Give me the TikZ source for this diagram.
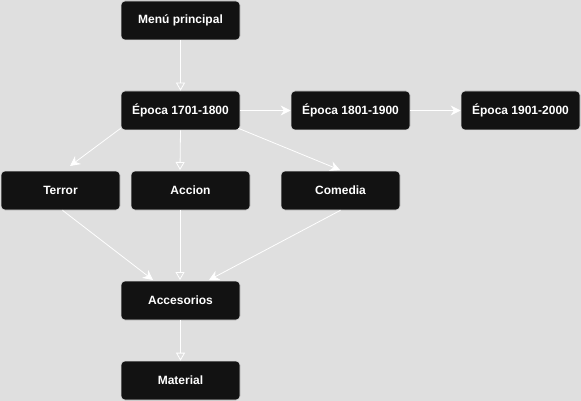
\documentclass[tikz,border=0pt]{standalone}
\usepackage{fontspec}
\setmainfont{Liberation Sans}
\usetikzlibrary{arrows.meta}
\definecolor{bg}{HTML}{DFDFDF}
\definecolor{boxfill}{HTML}{121212}
\begin{document}
\begin{tikzpicture}[x=1pt,y=-1pt,
  box/.style={draw=white!85!black, line width=0.6pt, fill=boxfill, rounded corners=4pt,
    minimum width=119pt, minimum height=39pt, inner sep=0pt,
    text=white, font=\fontsize{12}{14}\selectfont\bfseries},
  hollow/.style={draw=white, line width=0.8pt, -{Triangle[open, length=8pt, width=9pt, fill=bg]}},
  solid/.style={draw=white, line width=0.8pt, -{Stealth[length=10pt, width=10pt]}}]
\fill[bg] (0,0) rectangle (581,401);
\useasboundingbox (0,0) rectangle (581,401);
\node[box] (menu) at (180.5,20.5) {Menú principal};
\node[box] (e1) at (180.5,110.5) {Época 1701-1800};
\node[box] (e2) at (350.5,110.5) {Época 1801-1900};
\node[box] (e3) at (520.5,110.5) {Época 1901-2000};
\node[box] (terror) at (60.5,190.5) {Terror};
\node[box] (accion) at (190.5,190.5) {Accion};
\node[box] (comedia) at (340.5,190.5) {Comedia};
\node[box] (acc) at (180.5,300.5) {Accesorios};
\node[box] (mat) at (180.5,380.5) {Material};
\coordinate (tT) at (70,166);
\coordinate (tC) at (340,170);
\coordinate (tA) at (180,170);
\coordinate (aL) at (153,280);
\coordinate (aM) at (180,280);
\coordinate (aR) at (209,280);
\draw[hollow] (menu.south -| e1.center) -- (e1.north);
\draw[solid] (e1.east) -- (e2.west);
\draw[solid] (e2.east) -- (e3.west);
\draw[solid] (e1.south west) ++(0,-2) -- (tT);
\draw[hollow] (e1.south) -- (tA);
\draw[solid] (e1.south east) ++(-2,-2) -- (tC);
\draw[solid] (terror.south) ++(2,0) -- (aL);
\draw[hollow] (accion.south -| aM) -- (aM);
\draw[solid] (comedia.south) -- (aR);
\draw[hollow] (acc.south) -- (mat.north);
\end{tikzpicture}
\end{document}
